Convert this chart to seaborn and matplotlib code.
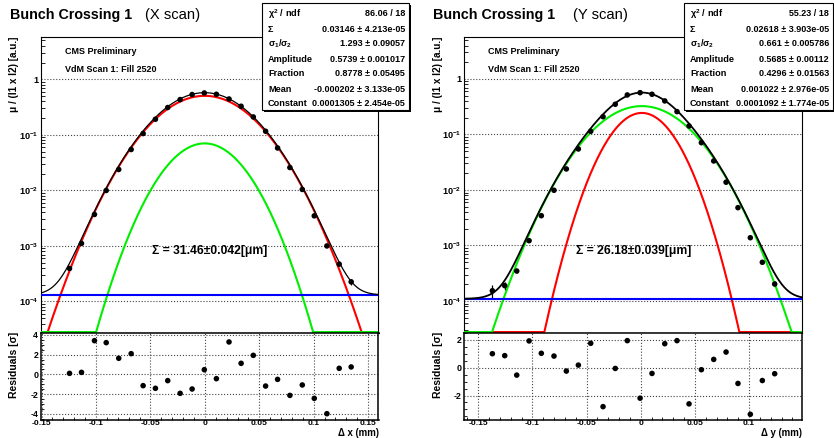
import numpy as np
import matplotlib
matplotlib.use('Agg')
import matplotlib.pyplot as plt
import seaborn as sns
from matplotlib.patches import Rectangle
from matplotlib.ticker import LogLocator, MultipleLocator, NullFormatter

sns.set_theme(style='white')
plt.rcParams['font.family'] = ['Liberation Sans', 'DejaVu Sans']
plt.rcParams['font.weight'] = 'bold'
plt.rcParams['mathtext.fontset'] = 'custom'
plt.rcParams['mathtext.rm'] = 'Liberation Sans:bold'
plt.rcParams['mathtext.it'] = 'Liberation Sans:bold'
plt.rcParams['mathtext.bf'] = 'Liberation Sans:bold'
for k in ['text.color', 'axes.labelcolor', 'xtick.color', 'ytick.color', 'axes.edgecolor']:
    plt.rcParams[k] = 'black'

# ---- X scan points
x_scan_pos = [-0.1243, -0.1133, -0.1014, -0.0906, -0.0791, -0.0677, -0.0567, -0.0454,
              -0.0341, -0.0227, -0.0117, -0.0005, 0.0106, 0.0222, 0.0333, 0.0445,
              0.0558, 0.0668, 0.0781, 0.0895, 0.1005, 0.1121, 0.1234, 0.1344]
x_scan_rate = [3.94e-4, 1.11e-3, 3.69e-3, 9.96e-3, 0.0238, 0.0544, 0.1055, 0.191,
               0.310, 0.431, 0.531, 0.567, 0.537, 0.442, 0.327, 0.210,
               0.116, 0.058, 0.0258, 0.0104, 3.48e-3, 1.00e-3, 4.71e-4, 2.26e-4]
x_scan_err = [2.5e-5] * 20 + [2.6e-5, 2.7e-5, 2.8e-5, 2.8e-5]
x_scan_resid = [0.10, 0.20, 3.42, 3.22, 1.63, 2.10, -1.15, -1.42, -0.64, -1.93, -1.49, 0.47,
                -0.44, 3.29, 1.12, 1.93, -1.19, -0.51, -2.14, -1.08, -2.44, -4.0, 0.61, 0.75]

# ---- Y scan points
y_scan_pos = [-0.1370, -0.1256, -0.1145, -0.1031, -0.0918, -0.0801, -0.0687, -0.0576,
              -0.0462, -0.0348, -0.0235, -0.0124, -0.0006, 0.0104, 0.0222, 0.0335,
              0.0446, 0.0560, 0.0674, 0.0788, 0.0898, 0.1012, 0.1123, 0.1237]
y_scan_rate = [1.53e-4, 1.89e-4, 3.47e-4, 1.22e-3, 3.44e-3, 9.88e-3, 0.0239, 0.0548,
               0.114, 0.209, 0.350, 0.515, 0.566, 0.530, 0.402, 0.258,
               0.142, 0.0711, 0.0333, 0.0138, 4.80e-3, 1.38e-3, 4.98e-4, 2.02e-4]
y_scan_err = [3.8e-5, 2.9e-5, 2.8e-5] + [2.5e-5] * 20 + [2.6e-5]
y_scan_resid = [1.01, 0.87, -0.53, 1.93, 1.04, 0.84, -0.24, 0.19, 1.76, -2.80, -0.05, 1.95,
                -2.19, -0.41, 1.73, 1.95, -2.60, -0.14, 0.60, 1.13, -1.13, -3.35, -0.92, -0.43]

# ---- fit results (X, Y)
fit_sigma = [0.03146, 0.02618]
fit_ratio = [1.293, 0.661]
fit_amp = [0.5739, 0.5685]
fit_frac = [0.8778, 0.4296]
fit_mean = [-0.000202, 0.001022]
fit_const = [0.0001305, 0.0001092]

stat_names = [r'$\chi^{2}$ / ndf', 'Σ', r'$\sigma_{1}/\sigma_{2}$', 'Amplitude', 'Fraction', 'Mean', 'Constant']
x_stat_vals = ['86.06 / 18', '0.03146 ± 4.213e-05', '1.293 ± 0.09057', '0.5739 ± 0.001017',
               '0.8778 ± 0.05495', '-0.000202 ± 3.133e-05', '0.0001305 ± 2.454e-05']
y_stat_vals = ['55.23 / 18', '0.02618 ± 3.903e-05', '0.661 ± 0.005786', '0.5685 ± 0.00112',
               '0.4296 ± 0.01563', '0.001022 ± 2.976e-05', '0.0001092 ± 1.774e-05']
sigma_text = ['Σ = 31.46±0.042[μm]', 'Σ = 26.18±0.039[μm]']
scan_names = ['(X scan)', '(Y scan)']
axis_names = ['Δ x (mm)', 'Δ y (mm)']
xtick_vals = [-0.15, -0.1, -0.05, 0, 0.05, 0.1, 0.15]
xtick_text = ['-0.15', '-0.1', '-0.05', '0', '0.05', '0.1', '0.15']
ytick_vals = [1, 0.1, 0.01, 1e-3, 1e-4]
ytick_text = ['1', r'$10^{-1}$', r'$10^{-2}$', r'$10^{-3}$', r'$10^{-4}$']

W, H = 834, 438
fig = plt.figure(figsize=(W / 100, H / 100), dpi=100)


def px_axes(x0, x1, y0, y1):
    return fig.add_axes([x0 / W, 1 - y1 / H, (x1 - x0) / W, (y1 - y0) / H])


def ftext(x, y, s, **kw):
    fig.text(x / W, 1 - y / H, s, **kw)


def components(xs, i):
    r, f = fit_ratio[i], fit_frac[i]
    s1 = fit_sigma[i] * (f + (1 - f) * r)
    s2 = s1 / r
    d = xs - fit_mean[i]
    g1 = fit_amp[i] * f * np.exp(-d ** 2 / (2 * s1 ** 2))
    g2 = fit_amp[i] * (1 - f) * np.exp(-d ** 2 / (2 * s2 ** 2))
    return g1, g2


panels = [
    dict(x0=41, x1=378.5, xlim=(-0.1505, 0.1595), ylim=(2.71e-5, 5.77), rlim=(-4.64, 4.2),
         rticks=[4, 2, 0, -2, -4], pos=x_scan_pos, rate=x_scan_rate, err=x_scan_err,
         resid=x_scan_resid, blw=0.9, lab_x=14, box=(262, 409), title_x=10, scan_x=145,
         cms_x=65, sig_x=152),
    dict(x0=464, x1=802.3, xlim=(-0.1632, 0.1492), ylim=(2.65e-5, 5.7), rlim=(-3.76, 2.5),
         rticks=[2, 0, -2], pos=y_scan_pos, rate=y_scan_rate, err=y_scan_err,
         resid=y_scan_resid, blw=1.3, lab_x=438, box=(684, 833), title_x=433, scan_x=573,
         cms_x=488, sig_x=576),
]

for i, p in enumerate(panels):
    ax = px_axes(p['x0'], p['x1'], 37, 333)
    rx = px_axes(p['x0'], p['x1'], 333, 420)

    xs = np.linspace(p['xlim'][0], p['xlim'][1], 800)
    g1, g2 = components(xs, i)
    floor = p['ylim'][0] * 1.04
    total = g1 + g2 + fit_const[i]

    ax.set_yscale('log')
    ax.errorbar(p['pos'], p['rate'], yerr=p['err'], fmt='none', ecolor='black', elinewidth=0.9)
    sns.scatterplot(x=p['pos'], y=p['rate'], ax=ax, color='black', s=16, edgecolor='none', zorder=4)
    sns.lineplot(x=xs, y=np.maximum(g1, floor), ax=ax, color='#ff0000', lw=1.5, estimator=None, zorder=3)
    sns.lineplot(x=xs, y=np.maximum(g2, floor), ax=ax, color='#00ee00', lw=1.5, estimator=None, zorder=3)
    sns.lineplot(x=xs, y=np.full_like(xs, fit_const[i]), ax=ax, color='#0000ff', lw=1.5,
                 estimator=None, zorder=3)
    sns.lineplot(x=xs, y=total, ax=ax, color='black', lw=p['blw'], estimator=None, zorder=5)
    ax.set_xlim(p['xlim'])
    ax.set_ylim(p['ylim'])
    ax.set_yticks(ytick_vals, ytick_text)
    ax.yaxis.set_minor_locator(LogLocator(base=10, subs=np.arange(2, 10)))
    ax.yaxis.set_minor_formatter(NullFormatter())
    ax.set_xticks([])
    ax.set_xlabel('')
    ax.set_ylabel('')
    ax.grid(axis='y', which='major', ls=':', color='#444444', lw=0.8)
    ax.tick_params(axis='y', which='major', direction='in', length=6, width=0.8, labelsize=6.6, pad=2)
    ax.tick_params(axis='y', which='minor', direction='in', length=3, width=0.6, left=True)
    for s in ax.spines.values():
        s.set_linewidth(0.8)

    sns.scatterplot(x=p['pos'], y=p['resid'], ax=rx, color='black', s=16, edgecolor='none')
    rx.set_xlim(p['xlim'])
    rx.set_ylim(p['rlim'])
    rx.set_xticks(xtick_vals, xtick_text)
    rx.set_xlim(p['xlim'])
    rx.set_yticks(p['rticks'], [str(v) for v in p['rticks']])
    rx.xaxis.set_minor_locator(MultipleLocator(0.01))
    rx.yaxis.set_minor_locator(MultipleLocator(0.5))
    rx.set_xlabel('')
    rx.set_ylabel('')
    rx.grid(which='major', ls=':', color='#444444', lw=0.8)
    rx.tick_params(which='major', direction='in', length=5, width=0.8, labelsize=6.4, pad=2)
    rx.tick_params(axis='x', which='major', labelsize=6.1, pad=0.2)
    rx.tick_params(which='minor', direction='in', length=2.5, width=0.6, bottom=True, left=True)
    for s in rx.spines.values():
        s.set_linewidth(1.1)

    # texts
    ftext(p['title_x'], 15, 'Bunch Crossing 1', fontsize=10.3, fontweight='bold', va='center')
    ftext(p['scan_x'], 15, scan_names[i], fontsize=10.6, fontweight='normal', va='center')
    ftext(p['cms_x'], 51, 'CMS Preliminary', fontsize=6.5, va='center')
    ftext(p['cms_x'], 69, 'VdM Scan 1: Fill 2520', fontsize=6.5, va='center')
    ftext(p['sig_x'], 251, sigma_text[i], fontsize=8.7, va='center')
    ftext(p['x1'], 438.5, axis_names[i], fontsize=6.9, ha='right', va='bottom')
    ftext(p['lab_x'], 37, 'μ / (I1 x I2) [a.u.]', fontsize=7.2, rotation=90, ha='center', va='top')
    ftext(p['lab_x'], 332, 'Residuals [σ]', fontsize=7.5, rotation=90, ha='center', va='top')

    # stats box
    bx0, bx1 = p['box']
    fig.patches.append(Rectangle(((bx0 + 1.5) / W, 1 - 111.5 / H), (bx1 - bx0) / W, 107 / H,
                                 transform=fig.transFigure, facecolor='black', edgecolor='none', zorder=9))
    fig.patches.append(Rectangle((bx0 / W, 1 - 110 / H), (bx1 - bx0) / W, 107 / H,
                                 transform=fig.transFigure, facecolor='white', edgecolor='black',
                                 lw=0.8, zorder=10))
    vals = x_stat_vals if i == 0 else y_stat_vals
    for k, (name, val) in enumerate(zip(stat_names, vals)):
        yy = 14 + 15 * k
        ftext(bx0 + 6, yy, name, fontsize=6.6, va='center', zorder=11)
        ftext(bx1 - 4, yy, val, fontsize=6.5, va='center', ha='right', zorder=11)

fig.savefig('out.png', dpi=100)
